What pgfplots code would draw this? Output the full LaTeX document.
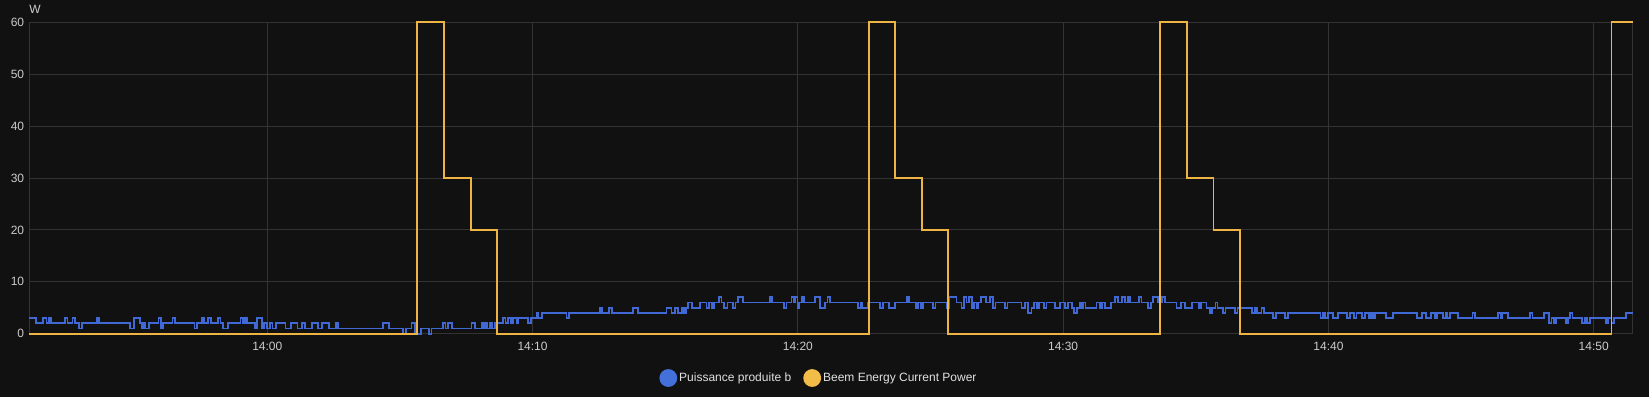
\documentclass[border=0pt]{standalone}
\usepackage{pgfplots}
\pgfplotsset{compat=1.18}
\usepackage{fontspec}
\setmainfont{Liberation Sans}
\definecolor{bg}{HTML}{111111}
\definecolor{gridc}{HTML}{333333}
\definecolor{tickc}{HTML}{CCCCCC}
\definecolor{legtext}{HTML}{E1E1E1}
\definecolor{blueC}{HTML}{4169D6}
\definecolor{yellowC}{HTML}{EDB443}
\definecolor{legY}{HTML}{F2BC48}
\definecolor{legB}{HTML}{4470DA}
\begin{document}
\begin{tikzpicture}[x=1pt,y=1pt]
\fill[bg] (0,0) rectangle (1649,397);
\begin{axis}[
  at={(29.3pt,63.3pt)}, anchor=south west,
  scale only axis, width=1603.7pt, height=311.4pt,
  xmin=-8.97, xmax=51.48, ymin=0, ymax=60,
  xtick={0,10,20,30,40,50},
  xticklabels={14:00,14:10,14:20,14:30,14:40,14:50},
  ytick={0,10,20,30,40,50,60},
  grid=major, major grid style={gridc, line width=1pt},
  axis line style={gridc, line width=1pt},
  major tick length=0pt,
  tick label style={font=\fontsize{12}{14}\selectfont, text=tickc},
  /pgf/number format/assume math mode=true,
  xticklabel style={inner sep=0pt, yshift=-8pt, anchor=north},
  yticklabel style={inner sep=0pt, xshift=-5pt, anchor=east},
  clip=false,
  legend columns=2,
  legend cell align=left,
  legend style={at={(0.4924,-0.1423)}, anchor=center, draw=none, fill=none,
    text=legtext, font=\fontsize{12}{14}\selectfont,
    nodes={inner sep=2pt},
    /tikz/every even column/.append style={column sep=10pt}},
]
\addplot[const plot, blueC, line width=1.8pt,
  legend image code/.code={\fill[legB] (8pt,0pt) circle (8pt);}] coordinates {
(-8.97,3) (-8.72,2) (-8.44,3) (-8.32,2) (-8.24,3) (-8.15,2) (-7.63,3) (-7.53,2) (-7.34,3) (-7.24,2)
(-7.09,1) (-6.98,2) (-6.43,3) (-6.33,2) (-5.18,1) (-5.02,3) (-4.80,2) (-4.72,1) (-4.65,2) (-4.59,1)
(-4.46,2) (-4.10,3) (-4.00,1) (-3.92,2) (-3.57,3) (-3.47,2) (-2.74,1) (-2.64,2) (-2.47,3) (-2.39,2)
(-2.22,3) (-2.12,2) (-1.86,3) (-1.76,2) (-1.66,1) (-1.47,2) (-1.01,3) (-0.90,2) (-0.84,3) (-0.75,2)
(-0.46,1) (-0.40,3) (-0.19,1) (-0.12,2) (-0.02,1) (0.11,2) (0.20,1) (0.33,2) (0.69,1) (0.89,2)
(1.14,1) (1.32,2) (1.42,1) (1.70,2) (1.92,1) (2.05,2) (2.33,1) (2.59,2) (2.68,1) (4.37,2)
(4.59,1) (5.13,0) (5.22,1) (5.44,2) (5.57,0) (5.78,1) (6.11,0) (6.19,1) (6.63,2) (6.72,1)
(6.80,2) (6.95,1) (7.70,2) (7.83,1) (8.08,2) (8.15,1) (8.22,2) (8.29,1) (8.39,2) (8.48,1)
(8.58,2) (8.90,3) (8.98,2) (9.06,3) (9.19,2) (9.27,3) (9.40,2) (9.46,3) (9.84,2) (9.93,3)
(10.15,4) (10.21,3) (10.37,4) (11.28,3) (11.37,4) (12.54,5) (12.63,4) (12.88,5) (12.98,4) (13.79,5)
(13.98,4) (15.05,5) (15.24,4) (15.36,5) (15.49,4) (15.62,5) (15.72,4) (15.78,5) (15.87,6) (16.00,5)
(16.31,6) (16.56,5) (16.65,6) (16.75,5) (16.85,6) (17.02,7) (17.12,6) (17.23,5) (17.35,6) (17.56,5)
(17.65,6) (17.75,7) (17.94,6) (18.95,7) (19.03,6) (19.49,5) (19.57,6) (19.76,7) (19.85,6) (19.91,7)
(19.99,5) (20.04,6) (20.16,7) (20.24,6) (20.64,7) (20.83,5) (21.02,6) (21.12,7) (21.21,6) (22.28,5)
(22.38,6) (22.44,5) (22.65,6) (23.09,5) (23.22,6) (23.43,5) (23.66,6) (24.10,7) (24.18,6) (24.45,5)
(24.54,6) (24.63,5) (24.73,6) (25.10,5) (25.19,6) (25.63,5) (25.72,7) (25.98,6) (26.17,5) (26.27,7)
(26.36,6) (26.45,7) (26.55,5) (26.64,6) (26.74,5) (26.80,6) (26.90,7) (27.08,6) (27.24,7) (27.36,5)
(27.45,6) (27.80,5) (27.90,6) (28.43,5) (28.56,6) (28.68,4) (28.81,5) (28.91,6) (29.00,5) (29.08,6)
(29.27,5) (29.37,6) (29.69,5) (29.88,6) (30.06,5) (30.19,6) (30.32,5) (30.42,4) (30.53,5) (30.63,6)
(30.69,5) (30.76,6) (30.84,5) (31.26,6) (31.38,5) (31.47,6) (31.57,5) (31.79,6) (31.95,7) (32.07,6)
(32.23,7) (32.33,6) (32.43,7) (32.51,6) (32.85,7) (32.95,6) (33.20,5) (33.30,6) (33.39,7) (33.58,6)
(33.74,7) (33.83,6) (34.27,5) (34.44,6) (34.59,5) (34.86,6) (35.11,5) (35.21,6) (35.40,5) (35.53,4)
(35.62,5) (35.74,6) (35.82,5) (36.03,4) (36.12,5) (36.47,4) (36.57,5) (37.12,4) (37.23,5) (37.30,4)
(37.48,5) (37.57,4) (37.92,3) (38.02,4) (38.36,3) (38.48,4) (39.70,3) (39.78,4) (39.86,3) (39.99,4)
(40.18,3) (40.37,4) (40.71,3) (40.81,4) (40.96,3) (41.06,4) (41.27,3) (41.37,4) (41.52,3) (41.61,4)
(41.69,3) (41.75,4) (42.17,3) (42.44,4) (43.34,3) (43.54,4) (43.67,3) (43.88,4) (44.01,3) (44.10,4)
(44.32,3) (44.42,4) (44.47,3) (44.57,4) (44.89,3) (45.43,4) (45.53,3) (46.40,4) (46.50,3) (46.56,4)
(46.77,3) (47.59,4) (47.69,3) (48.12,4) (48.30,2) (48.41,3) (48.49,2) (48.57,3) (48.95,2) (49.04,3)
(49.10,4) (49.20,3) (49.57,2) (49.66,3) (49.75,2) (49.85,3) (50.45,2) (50.54,3) (50.67,2) (50.75,3)
(51.21,4) (51.48,4)
};
\addlegendentry{Puissance produite b}
\addplot[const plot, yellowC, line width=1.8pt,
  legend image code/.code={\fill[legY] (8pt,0pt) circle (8pt);}] coordinates {
(-8.97,0) (5.65,60) (6.66,30) (7.67,20) (8.66,0) (22.67,60) (23.67,30) (24.67,20) (25.67,0)
(33.66,60) (34.67,30) (35.67,20) (36.67,0) (50.67,60) (51.48,60)
};
\addlegendentry{Beem Energy Current Power}
\node[anchor=south west, inner sep=0pt, yshift=8.8pt, text=tickc,
  font=\fontsize{12}{14}\selectfont] at (rel axis cs:0,1) {W};
\end{axis}
\end{tikzpicture}
\end{document}
